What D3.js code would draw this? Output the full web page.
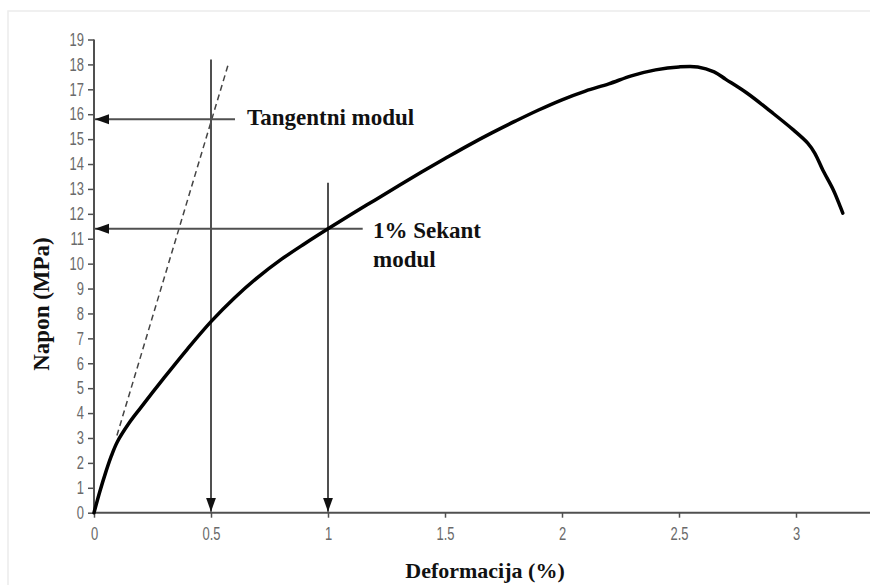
<!DOCTYPE html>
<html>
<head>
<meta charset="utf-8">
<script src="https://cdn.jsdelivr.net/npm/d3@7"></script>
<style>
  html, body { margin: 0; padding: 0; background: #fff; }
  svg { display: block; }
  .tick text { font-family: "Liberation Sans", Arial, sans-serif; fill: #6a6a6a; }
  .title { font-family: "Liberation Serif", "Times New Roman", serif; font-weight: bold; fill: #111; }
</style>
</head>
<body>
<svg id="chart" width="870" height="585"></svg>
<script>
// Stress–strain curve (strain in %, stress in MPa)
const strain = [0, 0.025, 0.05, 0.075, 0.1, 0.15, 0.2, 0.3, 0.4, 0.5, 0.6, 0.7, 0.8, 0.9, 1.0,
  1.1, 1.2, 1.3, 1.4, 1.5, 1.6, 1.7, 1.8, 1.9, 2.0, 2.1, 2.2, 2.3, 2.4, 2.5, 2.58,
  2.65, 2.7, 2.79, 2.9, 2.99, 3.05, 3.08, 3.115, 3.16, 3.19, 3.2];
const stress = [0, 0.85, 1.62, 2.3, 2.85, 3.6, 4.22, 5.42, 6.58, 7.67, 8.62, 9.45, 10.17, 10.8, 11.4,
  11.98, 12.55, 13.12, 13.68, 14.22, 14.75, 15.25, 15.72, 16.17, 16.58, 16.93, 17.22, 17.55, 17.78, 17.9, 17.9,
  17.7, 17.4, 16.85, 16.05, 15.36, 14.84, 14.44, 13.75, 12.95, 12.27, 12.03];

// Tangent line through the initial slope
const tangentStrain = [0.098, 0.573];
const tangentStress = [3.1, 17.98];

// Annotation markers: strain position, stress level, top of vertical guide
const markerStrain = [0.5, 1.0];
const markerStress = [15.8, 11.4];
const markerTop = [18.2, 13.25];
const markerLabels = [["Tangentni modul"], ["1% Sekant", "modul"]];

const xTicks = [0, 0.5, 1, 1.5, 2, 2.5, 3];
const yTicks = d3.range(0, 20);

const xLabel = "Deformacija (%)";
const yLabel = "Napon (MPa)";

const svg = d3.select("#chart");

const x = d3.scaleLinear().domain([0, 3]).range([94, 796]);
const y = d3.scaleLinear().domain([0, 19]).range([512.7, 39.5]);

// light frame
svg.append("path")
  .attr("d", "M8,585V11H870")
  .attr("fill", "none").attr("stroke", "#ececec").attr("stroke-width", 1.5);

const axisColor = "#505050";

// x axis
const gx = svg.append("g").attr("transform", `translate(0,${y(0)})`)
  .call(d3.axisBottom(x).tickValues(xTicks).tickSize(5).tickPadding(13)
    .tickFormat(d3.format("")));
gx.select(".domain").remove();
gx.append("line").attr("x1", x(0)).attr("x2", 870)
  .attr("stroke", axisColor).attr("stroke-width", 2);
gx.selectAll(".tick line").attr("stroke", axisColor).attr("stroke-width", 1.5);
gx.selectAll(".tick text").attr("font-size", 18).attr("dy", "0.5em");

// y axis
const gy = svg.append("g").attr("transform", `translate(${x(0)},0)`)
  .call(d3.axisLeft(y).tickValues(yTicks).tickSize(6).tickPadding(4));
gy.select(".domain").remove();
gy.append("line").attr("y1", y(0)).attr("y2", y(19))
  .attr("stroke", axisColor).attr("stroke-width", 2);
gy.selectAll(".tick line").attr("stroke", axisColor).attr("stroke-width", 1.5);
gy.selectAll(".tick text").attr("font-size", 18);

// narrow the tick numerals
svg.selectAll(".tick text").each(function () {
  const w = this.getComputedTextLength();
  d3.select(this).attr("textLength", w * 0.72).attr("lengthAdjust", "spacingAndGlyphs");
});

// arrow heads
const defs = svg.append("defs");
defs.append("marker").attr("id", "arrow")
  .attr("viewBox", "0 0 14 10").attr("refX", 14).attr("refY", 5)
  .attr("markerWidth", 14).attr("markerHeight", 11).attr("markerUnits", "userSpaceOnUse")
  .attr("orient", "auto")
  .append("path").attr("d", "M0,0L14,5L0,10Z").attr("fill", "#111");

// tangent line
svg.append("line")
  .attr("x1", x(tangentStrain[0])).attr("y1", y(tangentStress[0]))
  .attr("x2", x(tangentStrain[1])).attr("y2", y(tangentStress[1]))
  .attr("stroke", "#444").attr("stroke-width", 1.5).attr("stroke-dasharray", "6,4");

// guide lines with arrows
const labelX = [247, 373];
const labelY = [125, 238];
const hEnd = [235, 362.7];
markerStrain.forEach((s, i) => {
  svg.append("line")
    .attr("x1", x(s)).attr("y1", y(markerTop[i]))
    .attr("x2", x(s)).attr("y2", y(0) - 1)
    .attr("stroke", axisColor).attr("stroke-width", 2)
    .attr("marker-end", "url(#arrow)");
  svg.append("line")
    .attr("x1", hEnd[i]).attr("y1", y(markerStress[i]))
    .attr("x2", x(0) + 1).attr("y2", y(markerStress[i]))
    .attr("stroke", axisColor).attr("stroke-width", 2)
    .attr("marker-end", "url(#arrow)");
  const t = svg.append("text").attr("class", "title")
    .attr("x", labelX[i]).attr("y", labelY[i]).attr("font-size", 23);
  markerLabels[i].forEach((ln, j) => {
    t.append("tspan").attr("x", labelX[i]).attr("dy", j === 0 ? 0 : 29).text(ln);
  });
});

// curve
const line = d3.line().x(d => x(d[0])).y(d => y(d[1])).curve(d3.curveCatmullRom.alpha(0.5));
svg.append("path")
  .datum(strain.map((s, i) => [s, stress[i]]))
  .attr("d", line)
  .attr("fill", "none").attr("stroke", "#000").attr("stroke-width", 3.5)
  .attr("stroke-linejoin", "round").attr("stroke-linecap", "round");

// axis titles
svg.append("text").attr("class", "title")
  .attr("x", 485).attr("y", 578).attr("text-anchor", "middle")
  .attr("font-size", 22).text(xLabel);
svg.append("text").attr("class", "title")
  .attr("transform", "translate(49,304) rotate(-90)")
  .attr("text-anchor", "middle").attr("font-size", 23).text(yLabel);
</script>
</body>
</html>
